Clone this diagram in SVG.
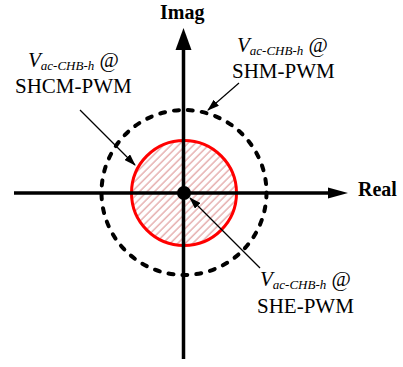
<svg xmlns="http://www.w3.org/2000/svg" width="403" height="367" viewBox="0 0 403 367">
<style>
.lbl{font-family:"Liberation Serif","Times New Roman",serif;font-size:21px;fill:#000}
.ax{font-family:"Liberation Serif","Times New Roman",serif;font-size:20px;font-weight:bold;fill:#000}
.sub{font-size:13px;font-style:italic}
.ptr{stroke:#000;stroke-width:1.2;fill:none;marker-end:url(#ah)}
</style>
<defs>
<pattern id="hatch" width="5.3" height="5.3" patternUnits="userSpaceOnUse" patternTransform="rotate(45)">
<line x1="1" y1="0" x2="1" y2="5.3" stroke="#e2a4a4" stroke-width="1.3"/>
</pattern>
<marker id="ah" markerWidth="12" markerHeight="8" refX="11" refY="4" orient="auto" markerUnits="userSpaceOnUse">
<path d="M0,0 L12,4 L0,8 Z" fill="#000"/>
</marker>
</defs>
<rect width="403" height="367" fill="#fff"/>
<g id="shm-circle">
<circle cx="184" cy="192.5" r="82.5" fill="none" stroke="#000" stroke-width="4" stroke-dasharray="5 9" stroke-linecap="round"/>
</g>
<g id="shcm-circle">
<circle cx="184" cy="193" r="52.5" fill="url(#hatch)" stroke="#ff0000" stroke-width="3"/>
</g>
<g id="axes">
<line x1="14" y1="193" x2="330" y2="193" stroke="#000" stroke-width="3.5"/>
<polygon points="328,187.5 348,193 328,198.5" fill="#000"/>
<line x1="183.5" y1="48" x2="183.5" y2="359" stroke="#000" stroke-width="3.5"/>
<polygon points="175.5,50 183.5,28 191.5,50" fill="#000"/>
<text class="ax" x="160" y="19">Imag</text>
<text class="ax" x="358" y="196">Real</text>
</g>
<g id="she-dot">
<circle cx="184" cy="193" r="7" fill="#000"/>
</g>
<g id="connectors">
<line class="ptr" x1="80" y1="110" x2="135" y2="165"/>
<line class="ptr" x1="239" y1="83" x2="208" y2="110"/>
<line class="ptr" x1="260" y1="268" x2="190" y2="198"/>
</g>
<g id="label-shcm">
<text class="lbl" x="28" y="67"><tspan font-style="italic">V</tspan><tspan class="sub" dy="3">ac-CHB-h</tspan><tspan dy="-3"> @</tspan></text>
<text class="lbl" x="15" y="93">SHCM-PWM</text>
</g>
<g id="label-shm">
<text class="lbl" x="237" y="52"><tspan font-style="italic">V</tspan><tspan class="sub" dy="3">ac-CHB-h</tspan><tspan dy="-3"> @</tspan></text>
<text class="lbl" x="232" y="78">SHM-PWM</text>
</g>
<g id="label-she">
<text class="lbl" x="260" y="286"><tspan font-style="italic">V</tspan><tspan class="sub" dy="3">ac-CHB-h</tspan><tspan dy="-3"> @</tspan></text>
<text class="lbl" x="257" y="313">SHE-PWM</text>
</g>
</svg>
